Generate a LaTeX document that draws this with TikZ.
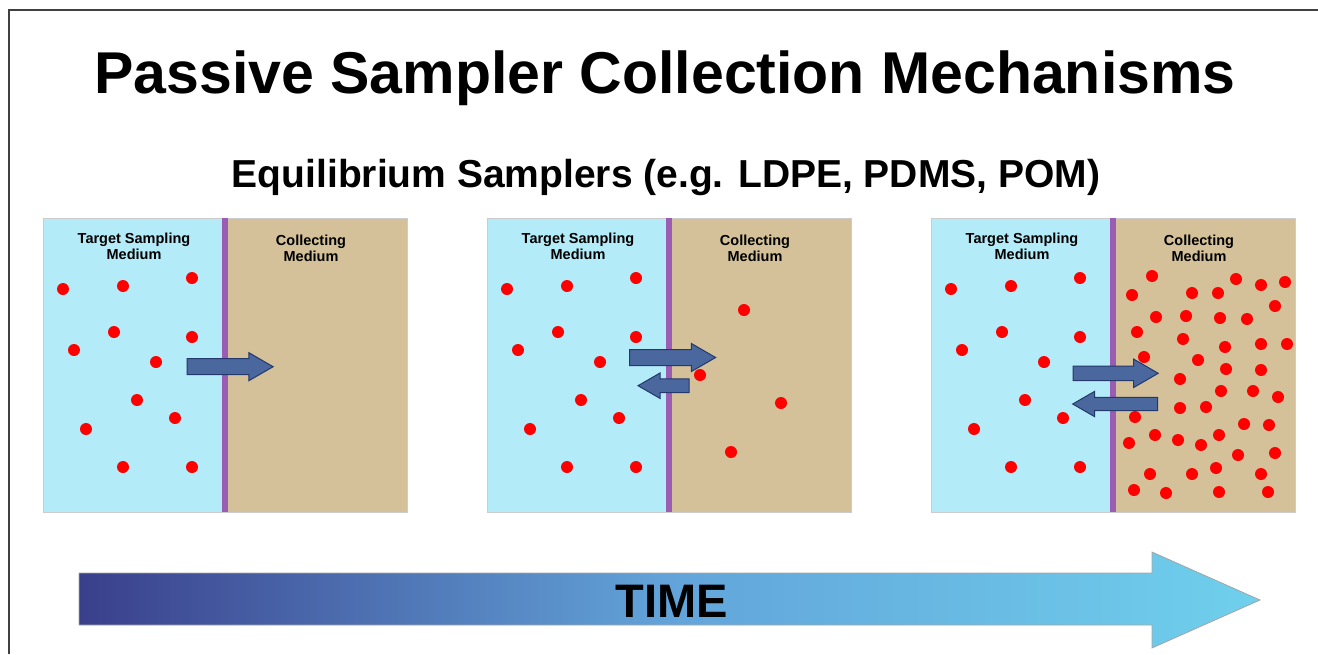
\documentclass[tikz,border=0pt]{standalone}
\usepackage{fontspec}
\setmainfont{Liberation Sans}
\usetikzlibrary{shapes.arrows}
\definecolor{medblue}{HTML}{B4EBF8}
\definecolor{medtan}{HTML}{D4C199}
\definecolor{membrane}{HTML}{9B5CB4}
\definecolor{fluxfill}{HTML}{4A679E}
\definecolor{fluxline}{HTML}{23386B}
\definecolor{timeleft}{HTML}{3A3F8B}
\definecolor{timemid}{HTML}{62A4DA}
\definecolor{timeright}{HTML}{6FD0EC}
\tikzset{molecule/.style={fill=red,draw=none},
	flux/.style={single arrow,draw=fluxline,fill=fluxfill,line width=1pt,inner xsep=0pt,inner ysep=7pt,single arrow tip angle=60,single arrow head extend=6pt},
	lbl/.style={font=\fontsize{14.5}{16}\selectfont\bfseries,align=center,inner sep=0pt,anchor=north}}

\begin{document}
\begin{tikzpicture}[x=1pt,y=-1pt]
	\def\pw{364}
	\def\ph{294}
	\def\mw{182}
	\useasboundingbox (0,0) rectangle (1318,654);
	\draw[black!75,line width=1.2pt] (9,654) -- (9,10) -- (1318,10);
	% titles
	\node[anchor=base,font=\fontsize{59}{64}\selectfont\bfseries] (title) at (665,93) {Passive Sampler Collection Mechanisms};
	\node[anchor=base,font=\fontsize{39}{42}\selectfont\bfseries] (subtitle) at (666,187) {Equilibrium Samplers (e.g. LDPE, PDMS, POM)};
	% panels
	\foreach \px/\n in {43/1,487/2,931/3}{
		\fill[medblue] (\px,218) rectangle (\px+\mw,218+\ph);
		\fill[medtan] (\px+\mw,218) rectangle (\px+\pw,218+\ph);
		\draw[black!20,line width=1pt] (\px,218) rectangle (\px+\pw,218+\ph);
		\draw[membrane,line width=6pt] (\px+\mw,218) -- (\px+\mw,218+\ph);
		\node[lbl] (target\n) at (\px+91,218+15) {Target Sampling\\Medium};
		\node[lbl] (collect\n) at (\px+268,218+17) {Collecting\\Medium};
		\foreach \x/\y in {20/71,80/68,149/60,71/114,149/119,31/132,113/144,94/182,132/200,43/211,80/249,149/249}
			\fill[molecule] (\px+\x,218+\y) circle (6);
	}
	% molecules taken up
	\foreach \x/\y in {257/92,213/157,294/185,244/234}
		\fill[molecule] (487+\x,218+\y) circle (6);
	\foreach \x/\y in {221/58,201/77,261/75,287/75,305/61,330/67,354/64,344/88,225/99,255/98,289/100,316/101,
		206/114,252/121,294/129,330/126,356/126,213/139,267/142,295/151,330/152,249/161,290/173,322/173,347/179,
		249/190,275/189,204/199,313/206,338/207,224/217,247/222,288/217,270/227,198/225,307/237,344/235,
		219/256,261/256,285/250,330/256,203/272,235/275,288/274,337/274}
		\fill[molecule] (931+\x,218+\y) circle (6);
	% flux arrows
	\node[flux,minimum height=86,inner ysep=7.5pt] (inA) at (223.2,366.7) {};
	\node[flux,minimum height=86,inner ysep=7.5pt] (inB) at (665.7,357.5) {};
	\node[flux,minimum height=51,inner ysep=6.3pt,shape border rotate=180] (outB) at (669.4,385.7) {};
	\node[flux,minimum height=85,inner ysep=6.7pt,single arrow head extend=7pt] (inC) at (1109.5,373.3) {};
	\node[flux,minimum height=85,inner ysep=6.2pt,shape border rotate=180] (outC) at (1121,404) {};
	% time axis
	\shade[left color=timeleft,right color=timeright,middle color=timemid,draw=black!35,line width=0.8pt]
		(79,573) -- (1152,573) -- (1152,552) -- (1260,600) -- (1152,648) -- (1152,625) -- (79,625) -- cycle;
	\node[anchor=base,font=\fontsize{47}{50}\selectfont\bfseries] (time) at (671.5,617) {TIME};
\end{tikzpicture}
\end{document}
